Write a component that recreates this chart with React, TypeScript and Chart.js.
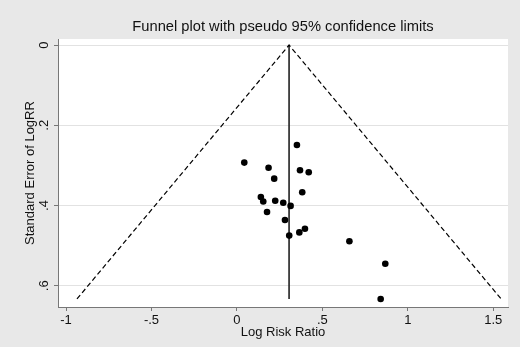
import { useEffect, useRef } from "react";
import { Chart, registerables } from "chart.js";

Chart.register(...registerables);

const TITLE = "Funnel plot with pseudo 95% confidence limits";
const X_TITLE = "Log Risk Ratio";
const Y_TITLE = "Standard Error of LogRR";

// Study estimates (log risk ratio) and their standard errors
const logRR = [0.351, 0.043, 0.185, 0.369, 0.42, 0.218, 0.382, 0.14, 0.154, 0.224, 0.271, 0.314, 0.176, 0.281, 0.398, 0.365, 0.306, 0.658, 0.868, 0.841];
const seLogRR = [0.249, 0.293, 0.306, 0.312, 0.317, 0.333, 0.367, 0.379, 0.39, 0.388, 0.393, 0.401, 0.416, 0.436, 0.458, 0.467, 0.475, 0.489, 0.545, 0.633];

// Pooled estimate line and pseudo 95% limits
const pooledLogRR = 0.305;
const pooledLineSE = [0, 0.633];
const funnelLogRR = [-0.936, 0.305, 1.546];
const funnelSE = [0.633, 0, 0.633];

const xTicks = [-1, -0.5, 0, 0.5, 1, 1.5];
const xTickLabels = ["-1", "-.5", "0", ".5", "1", "1.5"];
const yTicks = [0, 0.2, 0.4, 0.6];
const yTickLabels = ["0", ".2", ".4", ".6"];

const FONT = "Arial, 'Liberation Sans', Helvetica, sans-serif";

const framePlugin = {
  id: "frame",
  afterLayout(chart: any) {
    const t = chart.titleBlock;
    if (t) {
      t.left = chart.chartArea.left;
      t.right = chart.chartArea.right;
      t.width = t.right - t.left;
    }
  },
  beforeDraw(chart: any) {
    const { ctx, chartArea: a, width, height } = chart;
    ctx.save();
    ctx.fillStyle = "#e8e8e8";
    ctx.fillRect(0, 0, width, height);
    ctx.fillStyle = "#ffffff";
    ctx.fillRect(a.left, a.top, a.right - a.left, a.bottom - a.top);
    ctx.restore();
  },
};

export default function App() {
  const ref = useRef<HTMLCanvasElement>(null);

  useEffect(() => {
    const chart = new Chart(ref.current!, {
      type: "scatter",
      data: {
        datasets: [
          {
            type: "scatter",
            data: logRR.map((x, i) => ({ x, y: seLogRR[i] })),
            pointRadius: 3.3,
            pointBackgroundColor: "#000",
            pointBorderWidth: 0,
            backgroundColor: "#000",
          } as any,
          {
            type: "line",
            data: funnelLogRR.map((x, i) => ({ x, y: funnelSE[i] })),
            borderColor: "#000",
            borderWidth: 1.2,
            borderDash: [5, 3],
            pointRadius: 0,
            fill: false,
            tension: 0,
          } as any,
          {
            type: "line",
            data: pooledLineSE.map((y) => ({ x: pooledLogRR, y })),
            borderColor: "#222",
            borderWidth: 1.6,
            pointRadius: 0,
            fill: false,
          } as any,
        ],
      },
      options: {
        responsive: false,
        animation: false,
        devicePixelRatio: 1,
        layout: { padding: { left: 0, right: 12, top: 0, bottom: 0 } },
        plugins: {
          legend: { display: false },
          tooltip: { enabled: false },
          title: {
            display: true,
            text: TITLE,
            color: "#111",
            font: { family: FONT, size: 14.7, weight: "normal" },
            padding: { top: 18.6, bottom: 2.8 },
          },
        },
        scales: {
          x: {
            type: "linear",
            min: -1.047,
            max: 1.586,
            afterBuildTicks: (s: any) => {
              s.ticks = xTicks.map((value) => ({ value }));
            },
            afterFit: (s: any) => {
              s.height = 40;
            },
            ticks: {
              callback: (_v: any, i: number) => xTickLabels[i],
              color: "#111",
              font: { family: FONT, size: 13 },
              padding: 2,
              autoSkip: false,
              maxRotation: 0,
              minRotation: 0,
            },
            grid: {
              drawOnChartArea: false,
              drawTicks: true,
              tickLength: 4,
              tickColor: "#777",
            },
            border: { color: "#777", width: 1 },
            title: {
              display: true,
              text: X_TITLE,
              color: "#111",
              font: { family: FONT, size: 13 },
              padding: { top: 0, bottom: 6.7 },
            },
          },
          y: {
            type: "linear",
            reverse: true,
            min: -0.015,
            max: 0.653,
            afterBuildTicks: (s: any) => {
              s.ticks = yTicks.map((value) => ({ value }));
            },
            afterFit: (s: any) => {
              s.width = 58;
            },
            ticks: {
              callback: (_v: any, i: number) => yTickLabels[i],
              color: "#111",
              font: { family: FONT, size: 13 },
              padding: 4.5,
              minRotation: 90,
              maxRotation: 90,
              crossAlign: "center",
              autoSkip: false,
            },
            grid: {
              color: "#e2e2e2",
              drawTicks: true,
              tickLength: 4,
              tickColor: "#777",
            },
            border: { color: "#777", width: 1 },
            title: {
              display: true,
              text: Y_TITLE,
              color: "#111",
              font: { family: FONT, size: 13 },
              padding: { top: 22.5, bottom: 0 },
            },
          },
        },
      } as any,
      plugins: [framePlugin],
    });
    return () => chart.destroy();
  }, []);

  return (
    <div style={{ position: "fixed", left: 0, top: 0, width: 520, height: 347 }}>
      <canvas ref={ref} width={520} height={347} style={{ display: "block" }} />
    </div>
  );
}
